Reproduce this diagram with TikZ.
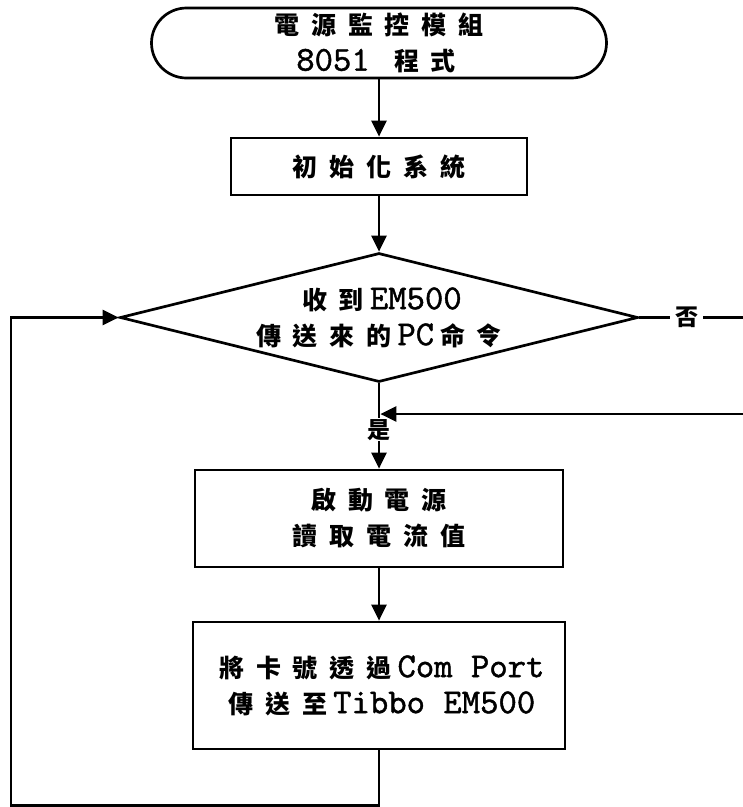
\documentclass[tikz,border=0pt]{standalone}
\usepackage{fontspec}
\usetikzlibrary{shapes.geometric,arrows.meta}
\newfontfamily\cjk{Noto Sans CJK TC}
\newfontfamily\latm[FakeBold=1.2]{lmmono10-regular.otf}
\newcommand\en[1]{{\latm\fontsize{35}{36}\selectfont #1}}
\newcommand\zh[1]{\zhloop#1\relax}
\def\zhloop#1{\ifx#1\relax\else\kern5.9pt#1\kern5.9pt\expandafter\zhloop\fi}
\begin{document}
\begin{tikzpicture}[x=1pt,y=-1pt,line width=2.7pt,
  >={Triangle[length=16pt,width=15pt]},
  txt/.style={font=\cjk\bfseries\fontsize{25}{36}\selectfont, align=center},
  box/.style={draw, rectangle, inner sep=0, txt},
  lbl/.style={fill=white, inner xsep=5pt, inner ysep=1pt, font=\cjk\bfseries\fontsize{23}{26}\selectfont}]
\useasboundingbox (0,0) rectangle (743,807);
\fill[white] (0,0) rectangle (743,807);
% nodes
\node[box, rounded corners=35pt, minimum width=455pt, minimum height=70pt] (start) at (379,43) {\zh{電源監控模組}\\\en{8051 }\zh{程式}};
\node[box, minimum width=296pt, minimum height=57pt] (b1) at (379,166.5) {\zh{初始化系統}};
\node[draw, diamond, minimum width=518pt, minimum height=129pt, inner sep=0] (d) at (379,317.5) {};
\node[txt] (dt) at (d.center) {\zh{收到}\en{EM500}\\\zh{傳送來的}\en{PC}\zh{命令}};
\node[box, minimum width=368pt, minimum height=97pt] (b2) at (379,518.5) {\zh{啟動電源}\\\zh{讀取電流值}};
\node[box, minimum width=372pt, minimum height=127pt] (b3) at (379,685.5) {\zh{將卡號透過}\en{Com Port}\\\zh{傳送至}\en{Tibbo EM500}};
% coordinates
\coordinate (rt) at (743,317.5);
\coordinate (rb) at (743,414);
\coordinate (j) at (379,414);
\coordinate (c1) at (379,805.5);
\coordinate (c2) at (11,805.5);
% connectors
\draw[->] (start) -- (b1);
\draw[->] (b1) -- (d.north);
\draw[->] (d.south) -- (b2) node[lbl, pos=0.545] {是};
\draw[->] (b2) -- (b3);
\draw (d.east) -- (rt) node[lbl, pos=0.457] {否};
\draw[->, shorten >=1.35pt] (rb) -- (j);
\draw[->] (b3) -- (c1) -- (c2) |- (d.west);
\end{tikzpicture}
\end{document}
